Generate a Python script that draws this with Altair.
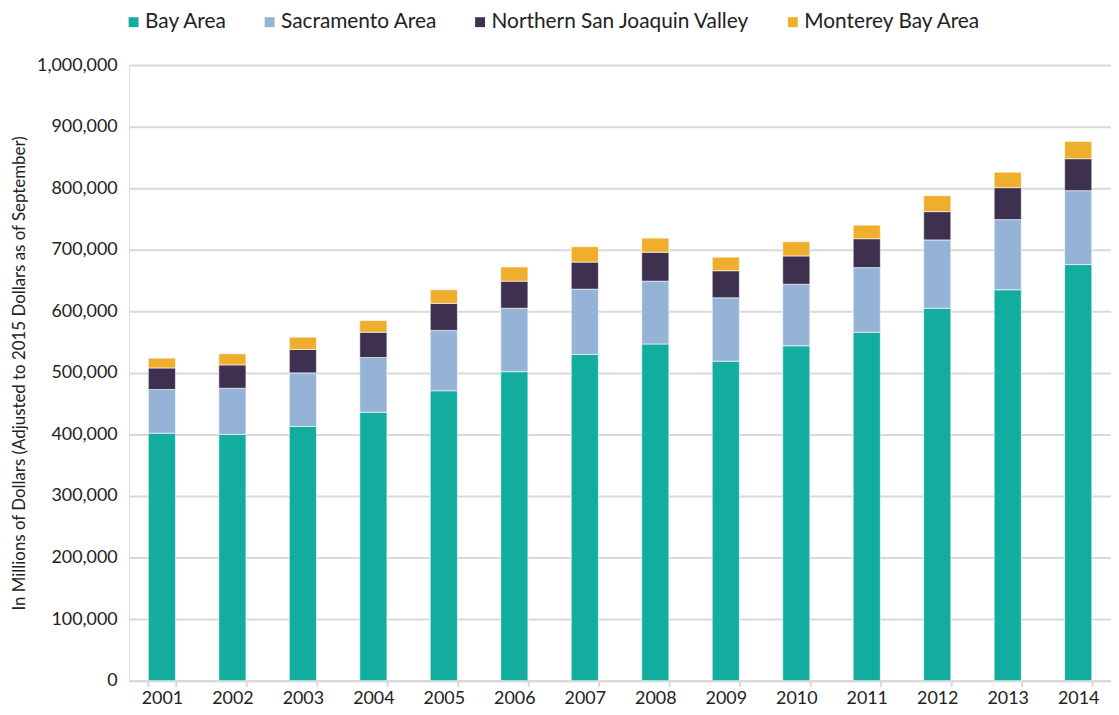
import altair as alt
import pandas as pd

years = [str(y) for y in range(2001, 2015)]
series = ["Bay Area", "Sacramento Area", "Northern San Joaquin Valley", "Monterey Bay Area"]
colors = ["#13ADA0", "#95B3D7", "#3E3150", "#EFAF2C"]

bay = [402000, 400000, 413000, 436000, 471000, 502000, 530000, 547000, 519000, 544000, 566000, 605000, 635000, 676000]
sac = [71000, 75000, 87000, 89000, 98000, 103000, 106000, 102000, 103000, 100000, 105000, 111000, 114000, 120000]
nsjv = [35000, 38000, 38000, 41000, 44000, 44000, 44000, 47000, 44000, 46000, 47000, 46000, 52000, 52000]
mont = [16000, 18000, 20000, 19000, 22000, 23000, 25000, 23000, 22000, 23000, 22000, 26000, 25000, 28000]

rows = []
for vals, name, idx in zip([bay, sac, nsjv, mont], series, range(4)):
    for y, v in zip(years, vals):
        rows.append({"Year": y, "Region": name, "Value": v, "Order": idx})
df = pd.DataFrame(rows)

FONT = "Lato"

chart = alt.Chart(df).mark_bar(stroke="white", strokeWidth=0.6).encode(
    x=alt.X("Year:N", sort=years, title=None,
            scale=alt.Scale(paddingInner=0.615, paddingOuter=0.2725),
            axis=alt.Axis(labelAngle=0, labelFontSize=18, labelColor="#222222", labelFont=FONT,
                          domainColor="#d9d9d9", domainWidth=2, tickColor="#d9d9d9", tickWidth=2,
                          tickSize=6, tickBand="extent", labelPadding=3)),
    y=alt.Y("Value:Q", stack="zero",
            title="In Millions of Dollars (Adjusted to 2015 Dollars as of September)",
            scale=alt.Scale(domain=[0, 1000000], nice=False),
            axis=alt.Axis(values=list(range(0, 1000001, 100000)), format=",.0f",
                          labelFontSize=18, labelColor="#222222", labelFont=FONT,
                          titleFont=FONT, titleFontSize=17, titleFontWeight="normal", titleColor="#222222",
                          titlePadding=8, domain=False, ticks=False, labelPadding=12,
                          gridColor="#d9d9d9", gridWidth=2)),
    color=alt.Color("Region:N", sort=series,
                    scale=alt.Scale(domain=series, range=colors),
                    legend=alt.Legend(title=None, orient="none", direction="horizontal",
                                      legendX=-6, legendY=-54, symbolType="square", symbolSize=100,
                                      symbolStrokeWidth=0, labelFontSize=21, labelFont=FONT,
                                      labelColor="#222222", labelOffset=1, columnPadding=32,
                                      labelLimit=400, symbolOpacity=1)),
    order=alt.Order("Order:Q", sort="ascending"),
).properties(
    width=989, height=620,
    autosize=alt.AutoSizeParams(type="none"),
    padding={"left": 122, "top": 55, "right": 0, "bottom": 24},
).configure_view(stroke=None).configure(background="white")

chart.save("out.html", embed_options={"renderer": "svg", "actions": False})
